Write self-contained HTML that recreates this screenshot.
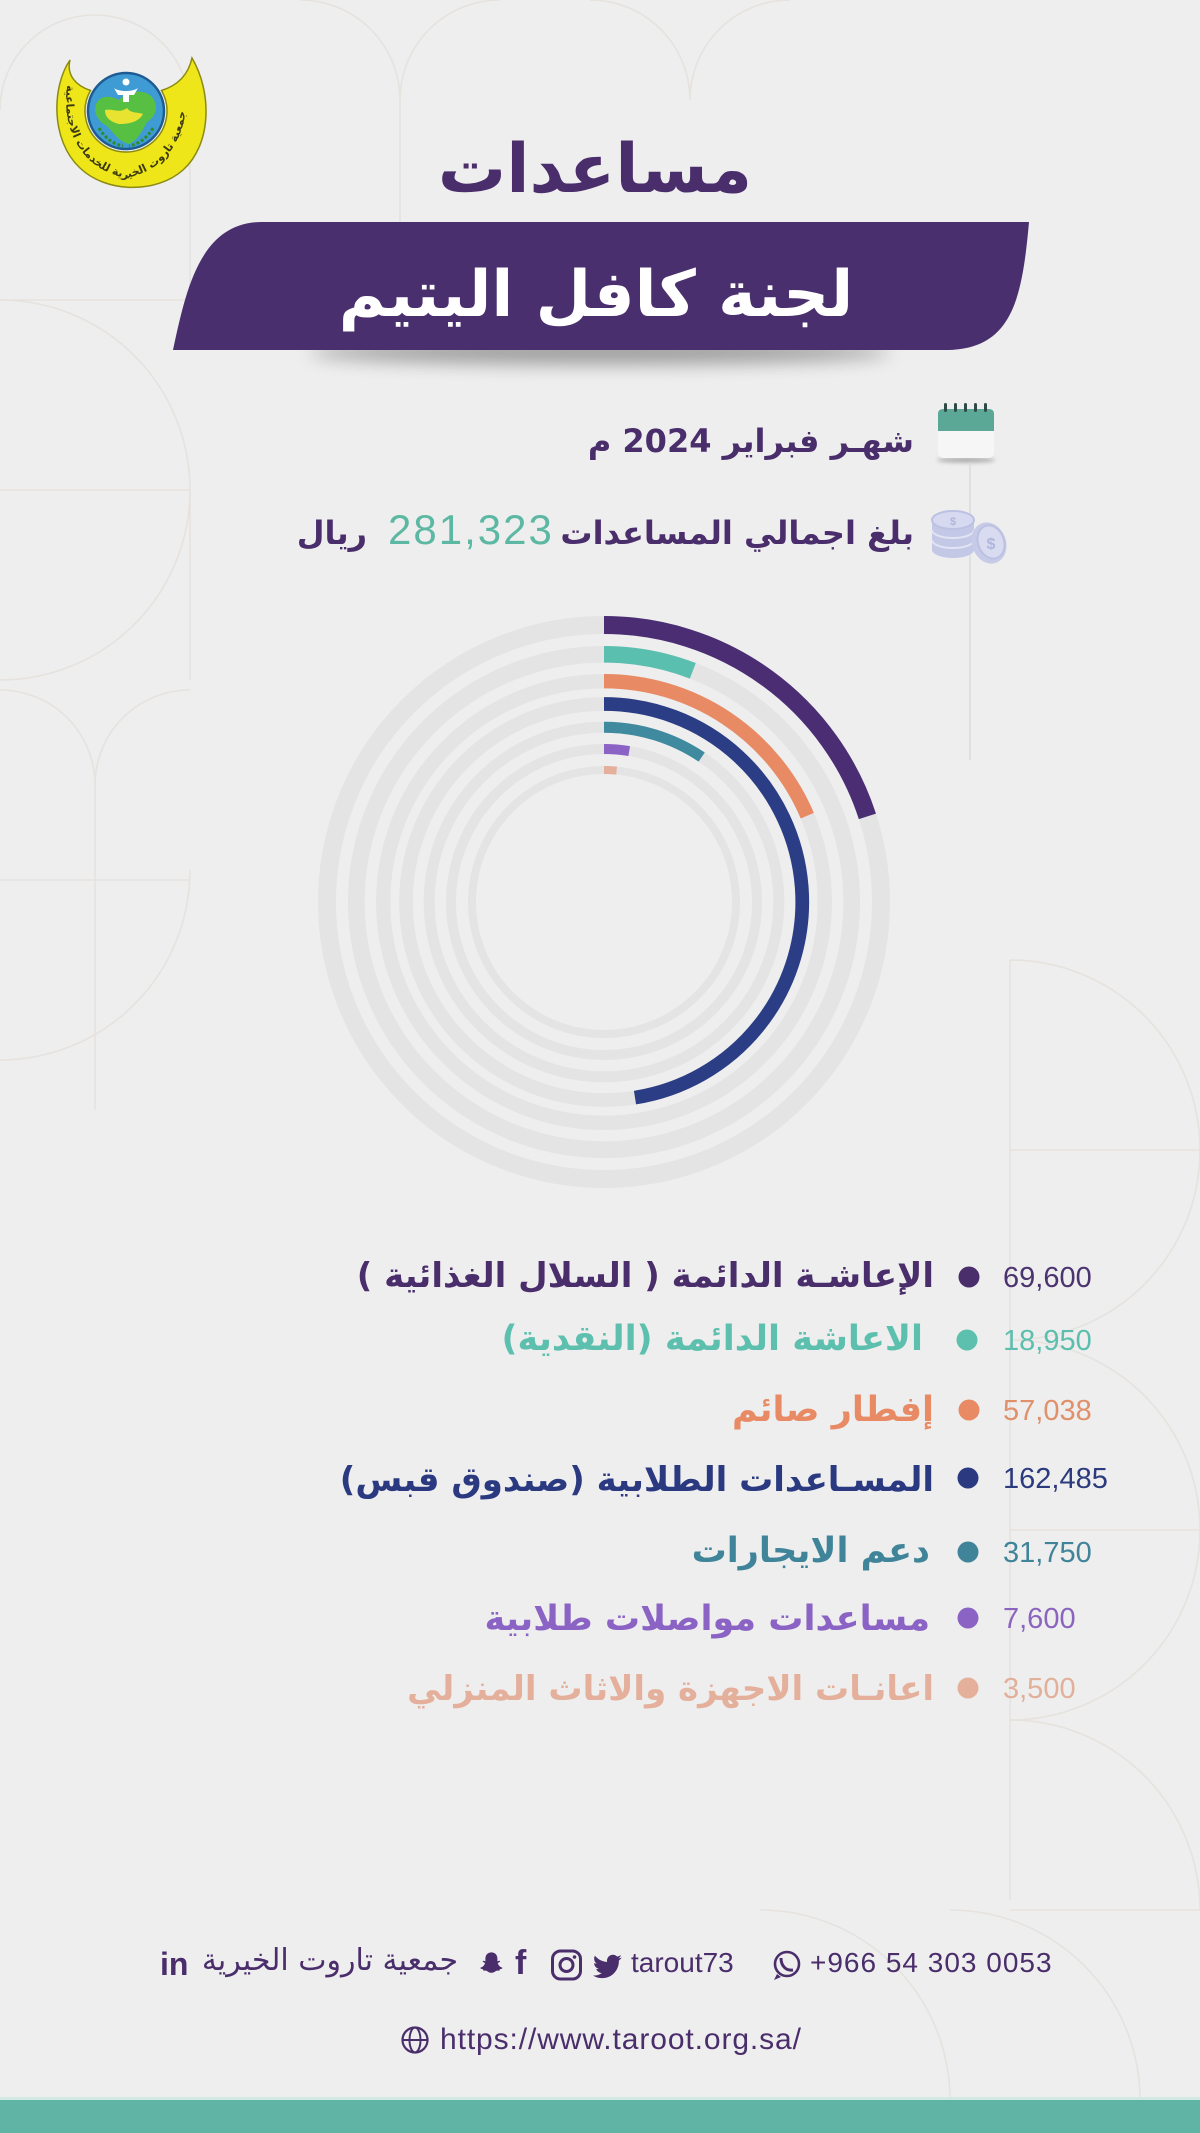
<!DOCTYPE html>
<html><head><meta charset="utf-8">
<style>
html,body{margin:0;padding:0}
body{width:1200px;height:2133px;background:#eeeeee;position:relative;overflow:hidden;font-family:"Liberation Sans","DejaVu Sans",sans-serif}
.t{position:absolute;white-space:nowrap;line-height:1}
.ar{font-family:"DejaVu Sans","Noto Sans CJK SC",sans-serif;direction:rtl;font-weight:bold}
.num{font-family:"Liberation Sans",sans-serif}
svg{position:absolute;left:0;top:0}
</style></head>
<body>
<svg width="1200" height="2133" viewBox="0 0 1200 2133">
  <defs>
    <filter id="blur10" x="-50%" y="-200%" width="200%" height="500%"><feGaussianBlur stdDeviation="9"/></filter>
    <filter id="blur2" x="-50%" y="-300%" width="200%" height="700%"><feGaussianBlur stdDeviation="2"/></filter>
    <path id="logoArc" d="M68,80 C60,122 76,168 126,178 C176,168 192,122 184,80"/>
  </defs>
  <!-- faint background pattern -->
  <g fill="none" stroke="#e6e2de" stroke-width="1.6">
    <path d="M0,110 A95,95 0 0 1 95,15 M95,15 A95,95 0 0 1 190,110 M190,110 L190,300 M0,300 L190,300"/>
    <path d="M300,0 A100,100 0 0 1 400,100 L400,330 M400,100 A100,100 0 0 1 500,0"/>
    <path d="M0,300 A190,190 0 0 1 190,490 M0,490 L190,490 L190,680 M0,680 A190,190 0 0 0 190,490"/>
    <path d="M0,690 A95,95 0 0 1 95,785 L95,1110 M190,690 A95,95 0 0 0 95,785"/>
    <path d="M0,880 L190,880 M0,1060 A190,190 0 0 0 190,870"/>
    <path d="M590,0 A100,100 0 0 1 690,100 M690,100 A100,100 0 0 1 790,0"/>
    <path d="M1010,960 A190,190 0 0 1 1200,1150 M1010,960 L1010,1900 M1010,1150 L1200,1150 M1010,1340 A190,190 0 0 0 1200,1150"/>
    <path d="M1010,1340 A190,190 0 0 1 1200,1530 M1010,1530 L1200,1530 M1010,1720 A190,190 0 0 0 1200,1530"/>
    <path d="M1010,1720 A190,190 0 0 1 1200,1910 M1010,1910 L1200,1910"/>
    <path d="M760,1910 A190,190 0 0 1 950,2100 M950,1910 A190,190 0 0 1 1140,2100"/>
  </g>

  <!-- logo -->
  <g>
    <path d="M70,60 C52,86 50,140 80,168 C106,193 156,194 183,170 C212,144 212,92 192,58 C188,76 176,86 161.5,90.5 A41,41 0 1 1 90.5,90.5 C77,86 66,76 70,60 Z" fill="#efe61a" stroke="#8a8a10" stroke-width="1.5"/>
    <text font-family="DejaVu Sans,sans-serif" font-size="11" fill="#3b3a10" font-weight="bold"><textPath href="#logoArc" startOffset="2%">جمعية تاروت الخيرية للخدمات الاجتماعية</textPath></text>
    <circle cx="126" cy="111" r="38" fill="#3f9bd4" stroke="#1d5b92" stroke-width="2.5"/>
    <path d="M96,104 C101,94 111,96 119,100 C127,92 141,88 151,96 C159,104 157,116 147,122 C141,134 135,142 129,144 C119,142 113,132 107,126 C99,122 93,114 96,104 Z" fill="#57c043"/>
    <path d="M105,110 C113,108 119,114 127,108 C131,114 139,112 143,114 C139,122 129,124 119,124 C111,122 105,118 105,110 Z" fill="#e8e330"/>
    <circle cx="126" cy="82" r="3.5" fill="#fff"/>
    <path d="M114,88 C119,92 133,92 138,88 L134,95 L129,95 L129,102 L123,102 L123,95 L118,95 Z" fill="#fff"/>
    <path d="M99,128 C105,138 113,144 123,146 M153,128 C147,138 139,144 129,146" fill="none" stroke="#2e8a2c" stroke-width="3" stroke-dasharray="3 2"/>
  </g>

  <!-- banner -->
  <ellipse cx="600" cy="352" rx="290" ry="12" fill="#000" opacity="0.35" filter="url(#blur10)"/>
  <path d="M173,350 C186,290 200,222 262,222 L1029,222 C1022,300 1012,350 945,350 Z" fill="#4a2f6e"/>

  <!-- calendar icon -->
  <ellipse cx="966" cy="460" rx="29" ry="2.5" fill="#777" opacity="0.6" filter="url(#blur2)"/>
  <rect x="938" y="409" width="56" height="49" rx="5" fill="#f6f6f6"/>
  <path d="M938,431 L938,414 Q938,409 943,409 L989,409 Q994,409 994,414 L994,431 Z" fill="#5ba896"/>
  <g fill="#2f4a46"><rect x="944" y="403" width="3" height="9" rx="1.5"/><rect x="954" y="403" width="3" height="9" rx="1.5"/><rect x="964" y="403" width="3" height="9" rx="1.5"/><rect x="974" y="403" width="3" height="9" rx="1.5"/><rect x="984" y="403" width="3" height="9" rx="1.5"/></g>
  <line x1="970" y1="463" x2="970" y2="760" stroke="#dcdcdc" stroke-width="1.5"/>

  <!-- coins icon -->
  <g>
    <path d="M932,520 L932,550 A21,8 0 0 0 974,550 L974,520 Z" fill="#c3c8e6"/>
    <path d="M932,530 A21,8 0 0 0 974,530 M932,540 A21,8 0 0 0 974,540" fill="none" stroke="#e2e4f3" stroke-width="2"/>
    <ellipse cx="953" cy="520" rx="21" ry="9" fill="#d6d9ef" stroke="#bcc1e2" stroke-width="2"/>
    <ellipse cx="989" cy="543" rx="17" ry="21" fill="#c7cbe8" transform="rotate(-20 989 543)"/>
    <ellipse cx="991" cy="542" rx="13" ry="17" fill="#d9dcf1" stroke="#bcc1e2" stroke-width="2" transform="rotate(-20 991 542)"/>
    <text x="991" y="549" font-family="Liberation Sans,sans-serif" font-size="16" fill="#b0b6dc" text-anchor="middle" font-weight="bold">$</text>
    <text x="953" y="525" font-family="Liberation Sans,sans-serif" font-size="11" fill="#b0b6dc" text-anchor="middle" font-weight="bold">$</text>
  </g>

  <!-- radial chart tracks -->
  <g fill="none" stroke="#e4e4e4">
    <circle cx="604" cy="902" r="277" stroke-width="18"/>
    <circle cx="604" cy="902" r="247.7" stroke-width="16.7"/>
    <circle cx="604" cy="902" r="220.8" stroke-width="14.3"/>
    <circle cx="604" cy="902" r="198" stroke-width="13.7"/>
    <circle cx="604" cy="902" r="174.8" stroke-width="11"/>
    <circle cx="604" cy="902" r="153" stroke-width="10"/>
    <circle cx="604" cy="902" r="132" stroke-width="8"/>
  </g>
  <g fill="none" stroke-linecap="butt">
    <path d="M604,625 A277,277 0 0 1 867.4,816.4" stroke="#4a2d73" stroke-width="18"/>
    <path d="M604,654.3 A247.7,247.7 0 0 1 692.8,670.8" stroke="#5bbfb0" stroke-width="16.7"/>
    <path d="M604,681.2 A220.8,220.8 0 0 1 807.3,815.7" stroke="#e88b65" stroke-width="14.3"/>
    <path d="M604,704 A198,198 0 0 1 635,1097.6" stroke="#2b3d85" stroke-width="13.7"/>
    <path d="M604,727.2 A174.8,174.8 0 0 1 701.7,757.1" stroke="#3f8a9e" stroke-width="11"/>
    <path d="M604,749 A153,153 0 0 1 629.2,751.1" stroke="#8b63c4" stroke-width="10"/>
    <path d="M604,770 A132,132 0 0 1 616.6,770.6" stroke="#e4b09c" stroke-width="8"/>
  </g>

  <!-- legend dots -->
  <circle cx="969" cy="1277" r="10.5" fill="#4a2d6b"/>
  <circle cx="967" cy="1340" r="10.5" fill="#5dbfad"/>
  <circle cx="969" cy="1410" r="10.5" fill="#e88b65"/>
  <circle cx="968" cy="1478" r="10.5" fill="#2b3a80"/>
  <circle cx="968" cy="1552" r="10.5" fill="#3f8499"/>
  <circle cx="968" cy="1618" r="10.5" fill="#8b63c4"/>
  <circle cx="968" cy="1688" r="10.5" fill="#e4b09c"/>

  <!-- footer icons -->
  <g fill="#4a2d6b">
    <path transform="translate(477,1950) scale(1.2)" d="M12 2c3 0 5 2.2 5 5.2v2.3l1.6-.5c.5 0 .8.4.5.8-.4.5-1.6.8-1.8 1.2.6 1.8 2 3.2 3.7 3.7.3.1.3.5 0 .7-.6.4-1.6.5-2 .7-.2.4-.1 1-.5 1.1-.6.1-1.4-.2-2.3.1-1 .3-1.8 1.7-4.2 1.7s-3.2-1.4-4.2-1.7c-.9-.3-1.7 0-2.3-.1-.4-.1-.3-.7-.5-1.1-.4-.2-1.4-.3-2-.7-.3-.2-.3-.6 0-.7 1.7-.5 3.1-1.9 3.7-3.7-.2-.4-1.4-.7-1.8-1.2-.3-.4 0-.8.5-.8l1.6.5V7.2C7 4.2 9 2 12 2z"/>
    <path transform="translate(593,1952) scale(1.2)" d="M23.954 4.569c-.885.389-1.83.654-2.825.775 1.014-.611 1.794-1.574 2.163-2.723-.951.555-2.005.959-3.127 1.184-.896-.959-2.173-1.555-3.591-1.555-2.717 0-4.920 2.203-4.920 4.917 0 .39.045.765.127 1.124C7.691 8.094 4.066 6.13 1.64 3.161c-.427.722-.666 1.561-.666 2.475 0 1.71.87 3.213 2.188 4.096-.807-.026-1.566-.248-2.228-.616v.061c0 2.385 1.693 4.374 3.946 4.827-.413.111-.849.171-1.296.171-.314 0-.615-.03-.916-.086.631 1.953 2.445 3.377 4.604 3.417-1.68 1.319-3.809 2.105-6.102 2.105-.39 0-.779-.023-1.17-.067 2.189 1.394 4.768 2.209 7.557 2.209 9.054 0 13.999-7.496 13.999-13.986 0-.209 0-.42-.015-.63.961-.689 1.8-1.56 2.46-2.548l-.047-.02z"/>
  </g>
  <g fill="none" stroke="#4a2d6b">
    <rect x="552.5" y="1951" width="28" height="28" rx="8" stroke-width="3"/>
    <circle cx="566.5" cy="1965" r="6.5" stroke-width="3"/>
    <circle cx="787" cy="1964" r="12" stroke-width="2.6"/>
    <path d="M781,1958 C781,1966 786,1971 793,1970" stroke-width="3"/>
    <circle cx="415" cy="2040" r="12.5" stroke-width="2.2"/>
    <ellipse cx="415" cy="2040" rx="5.5" ry="12.5" stroke-width="2"/>
    <line x1="402.5" y1="2040" x2="427.5" y2="2040" stroke-width="2"/>
  </g>
  <circle cx="574.5" cy="1957" r="1.8" fill="#4a2d6b"/>
  <path d="M777,1974 L774,1980 L781,1977 Z" fill="#4a2d6b"/>

  <!-- bottom band -->
  <rect x="0" y="2097" width="1200" height="3" fill="#d2e9e4"/>
  <rect x="0" y="2100" width="1200" height="33" fill="#60b4a6"/>
</svg>

<!-- titles -->
<div class="t ar" style="left:0;width:1190px;text-align:center;top:136px;font-size:68px;color:#4a2d6b">مساعدات</div>
<div class="t ar" style="left:0;width:1192px;text-align:center;top:263px;font-size:64px;color:#ffffff">لجنة كافل اليتيم</div>

<div class="t ar" style="right:286px;top:425px;font-size:32px;color:#4a2d6b">شهـر فبراير 2024 م</div>
<div class="t ar" style="right:286px;top:517px;font-size:32px;color:#4a2d6b">بلغ اجمالي المساعدات</div>
<div class="t num" style="left:388px;top:508.5px;font-size:42px;letter-spacing:2px;color:#5cb8a3">281,323</div>
<div class="t ar" style="right:833px;top:517px;font-size:32px;color:#4a2d6b">ريال</div>

<!-- legend -->
<div class="t ar" style="right:266px;top:1259.4px;font-size:34px;color:#4a2d6b">الإعاشـة الدائمة ( السلال الغذائية )</div>
<div class="t ar" style="right:277px;top:1322.4px;font-size:35px;color:#5dbfad">الاعاشة الدائمة (النقدية)</div>
<div class="t ar" style="right:266px;top:1393.4px;font-size:35px;color:#e88b65">إفطار صائم</div>
<div class="t ar" style="right:266px;top:1463.4px;font-size:34px;color:#2b3a80">المسـاعدات الطلابية (صندوق قبس)</div>
<div class="t ar" style="right:270px;top:1534.4px;font-size:35px;color:#3f8499">دعم الايجارات</div>
<div class="t ar" style="right:270px;top:1602.4px;font-size:35px;color:#8b63c4">مساعدات مواصلات طلابية</div>
<div class="t ar" style="right:266px;top:1672.4px;font-size:34px;color:#e4b09c">اعانـات الاجهزة والاثاث المنزلي</div>

<div class="t num" style="left:1003px;top:1264px;font-size:29px;color:#4b3370">69,600</div>
<div class="t num" style="left:1003px;top:1327px;font-size:29px;color:#5cbfae">18,950</div>
<div class="t num" style="left:1003px;top:1397px;font-size:29px;color:#e0906b">57,038</div>
<div class="t num" style="left:1003px;top:1465px;font-size:29px;color:#2c3a7e">162,485</div>
<div class="t num" style="left:1003px;top:1539px;font-size:29px;color:#3f8499">31,750</div>
<div class="t num" style="left:1003px;top:1605px;font-size:29px;color:#8b64bf">7,600</div>
<div class="t num" style="left:1003px;top:1675px;font-size:29px;color:#e0b09b">3,500</div>

<!-- footer -->
<div class="t num" style="left:160px;top:1948px;font-size:32px;font-weight:bold;color:#4a2d6b">in</div>
<div class="t" style="right:742px;top:1946px;font-size:30px;color:#4a2d6b;font-family:'DejaVu Sans',sans-serif;direction:rtl">جمعية تاروت الخيرية</div>
<div class="t num" style="left:515px;top:1946px;font-size:34px;font-weight:bold;color:#4a2d6b">f</div>
<div class="t num" style="left:631px;top:1949.3px;font-size:28px;color:#4a2d6b">tarout73</div>
<div class="t num" style="left:810px;top:1949.3px;font-size:28px;letter-spacing:1px;color:#4a2d6b">+966 54 303 0053</div>
<div class="t num" style="left:440px;top:2024.6px;font-size:30px;letter-spacing:0.9px;color:#4a2d6b">https://www.taroot.org.sa/</div>
</body></html>
